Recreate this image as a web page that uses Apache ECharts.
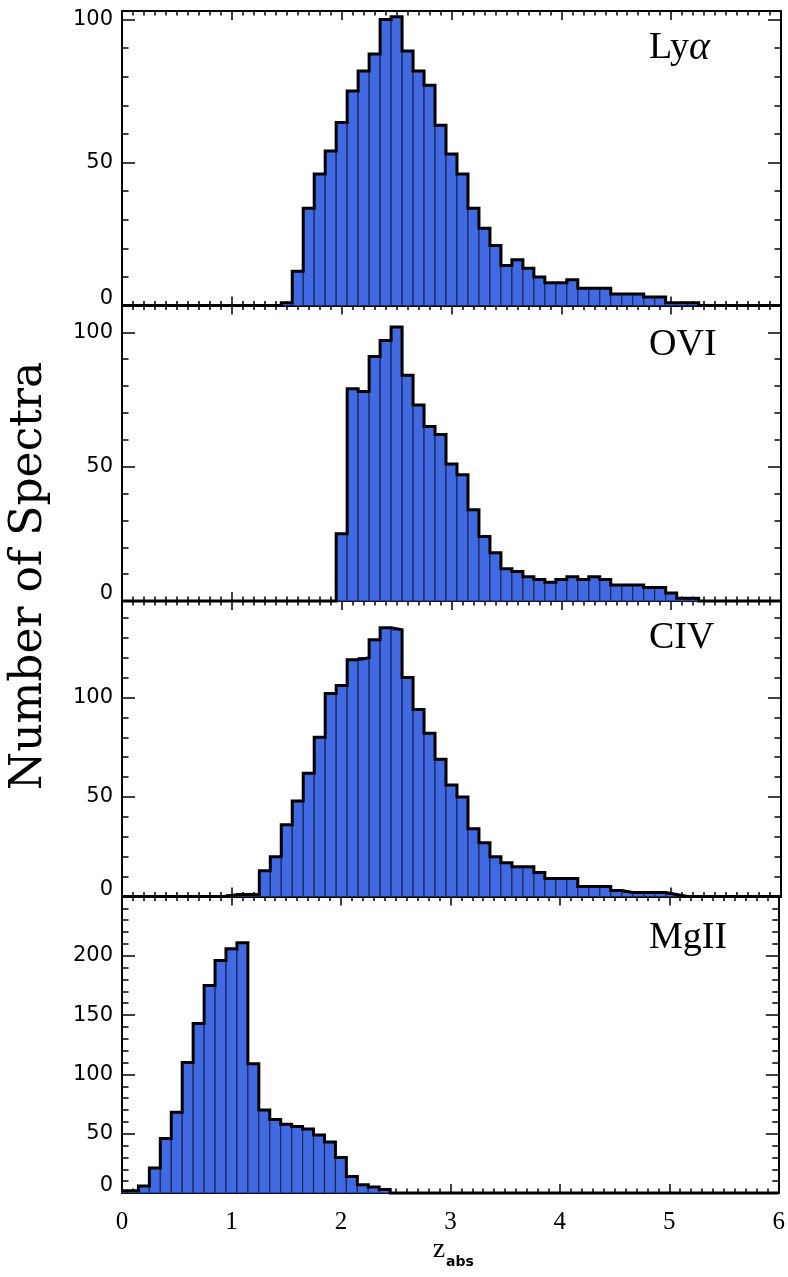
<!DOCTYPE html>
<html>
<head>
<meta charset="utf-8">
<script src="https://cdn.jsdelivr.net/npm/echarts@6/dist/echarts.min.js"></script>
<style>
html,body{margin:0;padding:0;background:#fff;}
#chart{width:788px;height:1277px;}
</style>
</head>
<body>
<div id="chart"></div>
<script>
// ---------------- data ----------------
const binCenters = [0.0,0.1,0.2,0.3,0.4,0.5,0.6,0.7,0.8,0.9,
  1.0,1.1,1.2,1.3,1.4,1.5,1.6,1.7,1.8,1.9,
  2.0,2.1,2.2,2.3,2.4,2.5,2.6,2.7,2.8,2.9,
  3.0,3.1,3.2,3.3,3.4,3.5,3.6,3.7,3.8,3.9,
  4.0,4.1,4.2,4.3,4.4,4.5,4.6,4.7,4.8,4.9,
  5.0,5.1,5.2,5.3,5.4,5.5,5.6,5.7,5.8,5.9];
const binWidth = 0.1;

const lyaCounts = [0,0,0,0,0,0,0,0,0,0,
  0,0,0,0,0,1,12,34,46,54,
  64,75,82,88,100,101,89,82,77,63,
  53,46,34,27,21,14,16,13,10,8,
  8,9,6,6,6,4,4,4,3,3,
  1,1,1,0,0,0,0,0,0,0];

const oviCounts = [0,0,0,0,0,0,0,0,0,0,
  0,0,0,0,0,0,0,0,0,0,
  25,79,78,91,97,102,84,73,65,62,
  51,47,34,24,18,12,11,9,8,7,
  8,9,8,9,8,6,6,6,5,5,
  3,1,1,0,0,0,0,0,0,0];

const civCounts = [0,0,0,0,0,0,0,0,0,0,
  1,1,1,13,20,36,48,62,80,102,
  106,119,120,129,135,134,110,94,82,69,
  56,50,34,27,20,17,15,15,12,9,
  9,9,5,5,5,3,2,2,2,2,
  1,0,0,0,0,0,0,0,0,0];

const mgiiCounts = [2,2,6,21,46,68,110,143,175,196,
  206,211,109,70,62,58,56,54,49,43,
  30,14,7,5,3,0,0,0,0,0,
  0,0,0,0,0,0,0,0,0,0,
  0,0,0,0,0,0,0,0,0,0,
  0,0,0,0,0,0,0,0,0,0];

const panelNames = ['Lyα', 'OVI', 'CIV', 'MgII'];
const panelCounts = [lyaCounts, oviCounts, civCounts, mgiiCounts];
const xRange = [0, 6];
const yRanges = [[0, 103], [0, 110], [0, 148.5], [0, 250]];
const xTickLabels = ['0', '1', '2', '3', '4', '5', '6'];
const yMajorStep = 50;
const yMinorStep = 10;

// ---------------- layout / style ----------------
const layout = [
  { top: 11, height: 294.5, labelY: 48 },
  { top: 305.5, height: 295.5, labelY: 345 },
  { top: 601, height: 295.5, labelY: 638 },
  { top: 896.5, height: 296.5, labelY: 938 }
];
const gridLeft = 122, gridRight = 7;
const BAR_FILL = '#4169E1';
const BAR_EDGE = '#1b2860';
const INK = '#000';
const LABEL_FONT = 'DejaVu Sans';

const chart = echarts.init(document.getElementById('chart'), null, { renderer: 'canvas' });

const grids = [], xAxes = [], yAxes = [], series = [], graphics = [];

panelCounts.forEach((counts, i) => {
  const L = layout[i];
  const yMin = yRanges[i][0], yMax = yRanges[i][1];
  grids.push({ left: gridLeft, right: gridRight, top: L.top, height: L.height, containLabel: false });

  const xBase = {
    type: 'value', gridIndex: i, min: xRange[0], max: xRange[1], interval: 1,
    axisLine: { show: true, onZero: false, lineStyle: { color: INK, width: 2 } },
    axisTick: { show: true, inside: true, length: 9, lineStyle: { color: INK, width: 1.5 } },
    minorTick: { show: true, splitNumber: 10, length: 4.5, lineStyle: { color: INK, width: 1.5 } },
    splitLine: { show: false },
    minorSplitLine: { show: false }
  };
  xAxes.push(Object.assign({}, xBase, {
    position: 'bottom',
    axisLabel: {
      show: i === 3, margin: 17, color: INK,
      fontFamily: 'Liberation Serif', fontSize: 25,
      formatter: v => xTickLabels[Math.round(v)] || ''
    }
  }));
  xAxes.push(Object.assign({}, xBase, { position: 'top', axisLabel: { show: false } }));

  const yIdx0 = yAxes.length;
  ['left', 'right'].forEach(side => {
    // major ticks (and labels on the left)
    yAxes.push({
      type: 'value', gridIndex: i, min: yMin, max: yMax, interval: yMajorStep,
      position: side, offset: 0,
      axisLine: { show: true, onZero: false, lineStyle: { color: INK, width: 2 } },
      axisTick: { show: true, inside: true, length: 13, lineStyle: { color: INK, width: 1.5 } },
      minorTick: { show: false },
      splitLine: { show: false },
      axisLabel: side === 'left' ? {
        show: true, margin: 9, color: INK, fontFamily: LABEL_FONT, fontSize: 21,
        showMaxLabel: false, showMinLabel: true,
        formatter: v => {
          if (Math.abs(v % yMajorStep) > 1e-9) return '';
          if (v === 0) return '{z|0}';
          return '{n|' + v + '}';
        },
        rich: {
          z: { fontFamily: LABEL_FONT, fontSize: 21, color: INK, padding: [0, 0, 14, 0] },
          n: { fontFamily: LABEL_FONT, fontSize: 21, color: INK }
        }
      } : { show: false }
    });
    // minor ticks
    yAxes.push({
      type: 'value', gridIndex: i, min: yMin, max: yMax, interval: yMinorStep,
      position: side, offset: 0,
      axisLine: { show: false, onZero: false },
      axisTick: { show: true, inside: true, length: 6.5, lineStyle: { color: INK, width: 1.5 } },
      minorTick: { show: false },
      splitLine: { show: false },
      axisLabel: { show: false }
    });
  });

  const half = binWidth / 2;
  const barData = binCenters.map((c, k) => [c, counts[k]]);
  series.push({
    type: 'custom',
    xAxisIndex: 2 * i, yAxisIndex: yIdx0,
    data: barData,
    z: 3,
    animation: false,
    renderItem: (params, api) => {
      const c = api.value(0), v = api.value(1);
      if (!v) return null;
      const x0 = Math.max(c - half, xRange[0]);
      const x1 = Math.min(c + half, xRange[1]);
      const p0 = api.coord([x0, v]);
      const p1 = api.coord([x1, 0]);
      return {
        type: 'rect',
        shape: { x: p0[0], y: p0[1], width: p1[0] - p0[0], height: p1[1] - p0[1] },
        style: { fill: BAR_FILL, stroke: BAR_EDGE, lineWidth: 1.2 }
      };
    }
  });

  const outline = binCenters.map((c, k) => [Math.max(c - half, xRange[0]), counts[k]]);
  outline.push([xRange[1], counts[counts.length - 1]]);
  series.push({
    type: 'line',
    xAxisIndex: 2 * i, yAxisIndex: yIdx0,
    data: outline,
    step: 'end',
    symbol: 'none', showSymbol: false,
    clip: false,
    z: 5,
    animation: false,
    lineStyle: { color: INK, width: 3, join: 'miter' }
  });

  const name = panelNames[i];
  if (name === 'Lyα') {
    graphics.push({
      type: 'text', x: 649, y: L.labelY, z: 10,
      style: {
        text: '{n|Ly}{a|α}', verticalAlign: 'middle', align: 'left',
        rich: {
          n: { fontFamily: 'Liberation Serif', fontSize: 38, fill: INK },
          a: { fontFamily: 'Liberation Serif', fontSize: 40, fontStyle: 'italic', fill: INK }
        }
      }
    });
  } else {
    graphics.push({
      type: 'text', x: 649, y: L.labelY, z: 10,
      style: {
        text: name, verticalAlign: 'middle', align: 'left',
        fontFamily: 'Liberation Serif', fontSize: 38, fill: INK
      }
    });
  }
});

graphics.push({
  type: 'text', x: 30, y: 576, rotation: Math.PI / 2, z: 10,
  style: {
    text: 'Number of Spectra', align: 'center', verticalAlign: 'middle',
    fontFamily: 'DejaVu Serif', fontSize: 44, fill: INK
  }
});
graphics.push({
  type: 'text', x: 439, y: 1250, z: 10,
  style: { text: 'z', align: 'center', verticalAlign: 'middle', fontFamily: 'Liberation Serif', fontSize: 28, fill: INK }
});
graphics.push({
  type: 'text', x: 446, y: 1262, z: 10,
  style: { text: 'abs', align: 'left', verticalAlign: 'middle', fontFamily: 'DejaVu Sans', fontWeight: 'bold', fontSize: 14, fill: INK }
});

chart.setOption({
  animation: false,
  backgroundColor: '#fff',
  grid: grids,
  xAxis: xAxes,
  yAxis: yAxes,
  series: series,
  graphic: graphics
});
</script>
</body>
</html>
